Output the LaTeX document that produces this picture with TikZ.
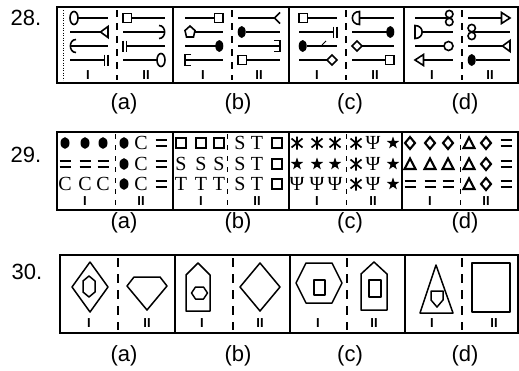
\documentclass[tikz,border=0pt]{standalone}
\usepackage{fontspec}
\setmainfont{Liberation Sans}
\newfontfamily\serifx{Liberation Serif}
\usetikzlibrary{shapes.geometric}
\tikzset{
 outerbox/.style={line width=1.9pt},
 divline/.style={line width=1.6pt},
 dashA/.style={line width=2pt, dash pattern=on 7pt off 6pt},
 dashB/.style={line width=0.8pt, dash pattern=on 5pt off 6pt},
 dashC/.style={line width=2.2pt, dash pattern=on 9pt off 7pt},
 gl/.style={line width=1.8pt},
 sym/.style={line width=1.6pt},
 symB/.style={line width=1.5pt, line join=round},
 lab/.style={font=\fontsize{22}{22}\selectfont, inner sep=0pt},
 rom/.style={font=\bfseries\fontsize{13}{13}\selectfont, inner sep=0pt},
 letr/.style={font=\serifx\fontsize{20}{20}\selectfont, inner sep=0pt},
 % row 29 symbols (centred)
 pics/dot/.style={code={\fill (0,0) ellipse [x radius=4.5, y radius=5.8];}},
 pics/eq/.style={code={\draw[line width=2pt] (-5.5,-2.7)--(5.5,-2.7) (-5.5,2.7)--(5.5,2.7);}},
 pics/sqb/.style={code={\draw[line width=1.8pt] (-5,-5) rectangle (5,5);}},
 pics/ast/.style={code={\draw[line width=1.7pt] (0,-6.5)--(0,6.5) (-5.5,-4.5)--(5.5,4.5) (-5.5,4.5)--(5.5,-4.5);}},
 pics/diab/.style={code={\draw[line width=2.1pt] (0,-6)--(5,0)--(0,6)--(-5,0)--cycle;}},
 pics/trib/.style={code={\draw[line width=2.1pt, line join=miter] (0,-5.5)--(5.5,5)--(-5.5,5)--cycle;}},
 pics/stf/.style={code={\fill (270:6.5) -- (306:2.6) -- (342:6.5) -- (18:2.6) -- (54:6.5) -- (90:2.6) -- (126:6.5) -- (162:2.6) -- (198:6.5) -- (234:2.6) -- cycle;}},
 pics/lC/.style={code={\node[letr] (-t) {C};}},
 pics/lS/.style={code={\node[letr] (-t) {S};}},
 pics/lT/.style={code={\node[letr] (-t) {T};}},
 pics/lP/.style={code={\node[letr] (-t) {Ψ};}},
}
% row 28 end symbols (line attaches at origin from the left)
\newcommand\Skey{\draw[sym] (4,0) ellipse [x radius=4, y radius=6.5];}
\newcommand\Ssqr{\draw[sym] (0,-4.5) rectangle (8.5,4.5);}
\newcommand\Sfov{\fill (3.8,0) ellipse [x radius=4, y radius=6];}
\newcommand\Scir{\draw[sym] (4.5,0) circle [radius=4.5];}
\newcommand\Sdia{\draw[sym] (0,0)--(5,-5)--(10,0)--(5,5)--cycle;}
\newcommand\Stri{\draw[sym] (0,0)--(7.5,-5.5)--(7.5,5.5)--cycle;}
\newcommand\Sarw{\draw[sym] (0,-5.5)--(0,5.5)--(8.5,0)--cycle;}
\newcommand\Sbars{\draw[sym] (0,-5.5)--(0,5.5) (3.5,-5.5)--(3.5,5.5);}
\newcommand\Scfk{\draw[sym] (-6,-6.5) .. controls (1.5,-6.5) and (1.5,6.5) .. (-6,6.5);}
\newcommand\Ssfk{\draw[sym] (-6,-5.5)--(0,-5.5)--(0,5.5)--(-6,5.5);}
\newcommand\Syfk{\draw[sym] (0,0)--(5.5,-5.5) (0,0)--(5.5,5.5);}
\newcommand\Sdrd{\draw[sym] (7.5,-6.5)--(7.5,6.5) .. controls (-2,6.5) and (-2,-6.5) .. (7.5,-6.5) -- cycle;}
\newcommand\Sdfl{\draw[sym] (0,-6.5)--(0,6.5) .. controls (9.5,6.5) and (9.5,-6.5) .. (0,-6.5) -- cycle;}
\newcommand\Seit{\draw[sym] (0,-3.9) circle [radius=3.7] (0,3.9) circle [radius=3.7];}
\newcommand\Shse{\draw[sym] (0,-1.5)--(5,-6)--(10,-1.5)--(8.5,5)--(1.5,5)--cycle;}
\newcommand\symR[5]{\draw[gl] (#1,#3) -- ({#2-#5},#3);
 \begin{scope}[shift={({#2-#5},#3)}]\csname S#4\endcsname\end{scope}}
\newcommand\symL[5]{\draw[gl] ({#1+#5},#3) -- (#2,#3);
 \begin{scope}[shift={({#1+#5},#3)},xscale=-1]\csname S#4\endcsname\end{scope}}
\newcommand\gridrow[3]{%
 \foreach \s [count=\j] in {#3} {
   \pgfmathsetmacro\dx{{8,28,46,67,84,104}[\j-1]}
   \pic (g#1-#2-\j) at ({#1+\dx},#2) {\s};
 }}
\begin{document}
\begin{tikzpicture}[x=1pt,y=-1pt]
\useasboundingbox (0,0) rectangle (519,370);
\fill[white] (0,0) rectangle (519,370);

% ---------- row numbers
\node[lab] (n28) at (26,18) {28.};
\node[lab] (n29) at (26,155) {29.};
\node[lab] (n30) at (27,272) {30.};

% ---------- question 28
\draw[outerbox] (57,7) rectangle (518,83);
\draw[line width=0.5pt, dotted] (63,10) -- (63,80);
\foreach \x in {173,289,404} \draw[divline] (\x,7) -- (\x,83);
\foreach \x in {117,232,346,462} \draw[dashA] (\x,10) -- (\x,80);
% a I
\symL{70}{108}{18}{key}{8}
\symR{70}{108}{32}{tri}{7.5}
\symL{70}{108}{46}{cfk}{0}
\symR{70}{108}{60}{bars}{3.5}
% a II
\symL{123}{165}{18}{sqr}{8.5}
\symR{123}{165}{32}{cfk}{0}
\symL{123}{165}{46}{bars}{3.5}
\symR{123}{165}{60}{key}{8}
% b I
\symR{185}{223}{18}{sqr}{8.5}
\symL{185}{223}{32}{hse}{10}
\symR{185}{223}{46}{fov}{7.5}
\symL{185}{223}{60}{sfk}{0}
% b II
\symR{238}{280}{18}{yfk}{5.5}
\symL{238}{280}{32}{fov}{7.5}
\symR{238}{280}{46}{sfk}{0}
\symL{238}{280}{60}{sqr}{8.5}
% c I
\symL{299}{337}{18}{sqr}{8.5}
\symR{299}{337}{32}{bars}{3.5}
\symL{299}{337}{46}{fov}{7.5}
\symR{299}{337}{60}{dia}{10}
\draw[line width=0.8pt] (322,45) -- (326,41);
% c II
\symL{352}{394}{18}{dfl}{7.5}
\symR{352}{394}{32}{fov}{7.5}
\symL{352}{394}{46}{dia}{10}
\symR{352}{394}{60}{sqr}{8.5}
% d I
\symR{415}{453}{18}{eit}{3.7}
\symL{415}{453}{32}{drd}{7.5}
\symR{415}{453}{46}{cir}{9}
\symL{415}{453}{60}{arw}{8.5}
% d II
\symR{468}{510}{18}{arw}{8.5}
\symL{468}{510}{32}{eit}{3.7}
\symR{468}{510}{46}{tri}{7.5}
\symL{468}{510}{60}{fov}{7.5}
\foreach \x/\t [count=\i] in {88/I,146/II,203/I,259/II,317/I,375/II,432/I,490/II}
  \node[rom] (r28-\i) at (\x,75) {\t};
\foreach \x/\t in {124/a,238/b,350/c,465/d}
  \node[lab] (l28\t) at (\x,104) {(\t)};

% ---------- question 29
\draw[outerbox] (57,132) rectangle (518,210);
\foreach \x in {173,289,402} \draw[divline] (\x,132) -- (\x,210);
\foreach \x in {115,227,346,460} \draw[dashB] (\x,134) -- (\x,208);
\gridrow{57}{143}{dot,dot,dot,dot,lC,eq}
\gridrow{57}{164}{eq,eq,eq,dot,lC,eq}
\gridrow{57}{184}{lC,lC,lC,dot,lC,eq}
\gridrow{173}{143}{sqb,sqb,sqb,lS,lT,sqb}
\gridrow{173}{164}{lS,lS,lS,lS,lT,sqb}
\gridrow{173}{184}{lT,lT,lT,lS,lT,sqb}
\gridrow{289}{143}{ast,ast,ast,ast,lP,stf}
\gridrow{289}{164}{stf,stf,stf,ast,lP,stf}
\gridrow{289}{184}{lP,lP,lP,ast,lP,stf}
\gridrow{402}{143}{diab,diab,diab,trib,diab,eq}
\gridrow{402}{164}{trib,trib,trib,trib,diab,eq}
\gridrow{402}{184}{eq,eq,eq,trib,diab,eq}
\foreach \x/\t [count=\i] in {85/I,141/II,201/I,257/II,317/I,373/II,430/I,486/II}
  \node[rom] (r29-\i) at (\x,201) {\t};
\foreach \x/\t in {124/a,238/b,350/c,465/d}
  \node[lab] (l29\t) at (\x,223) {(\t)};

% ---------- question 30
\draw[outerbox] (60,255) rectangle (518,333);
\foreach \x in {175,290,405} \draw[divline] (\x,255) -- (\x,333);
\foreach \x in {118,233,347,462} \draw[dashC] (\x,258) -- (\x,330);
% a
\draw[symB] (72,287)--(90,262)--(108,287)--(90,312)--cycle;
\draw[symB] (89,276)--(95,281)--(95,292)--(89,297)--(83,292)--(83,281)--cycle;
\draw[symB] (134,277)--(160,277)--(167,286)--(147,310)--(127,286)--cycle;
% b
\draw[symB] (186,311)--(186,275)--(198,263)--(210,275)--(210,311)--cycle;
\draw[symB] (191.5,293)--(195.5,287)--(203.5,287)--(207.5,293)--(203.5,299)--(195.5,299)--cycle;
\draw[symB] (240,287)--(260,263)--(280,287)--(260,311)--cycle;
% c
\draw[symB] (296,283)--(306,263)--(332,263)--(342,283)--(332,303)--(306,303)--cycle;
\draw[symB] (314,280) rectangle (325,295);
\draw[symB] (361,310)--(361,274)--(374,262)--(387,274)--(387,310)--cycle;
\draw[symB] (369,280) rectangle (381,297);
% d
\draw[symB] (436,265)--(453,313)--(420,313)--cycle;
\draw[symB] (431,291)--(443,291)--(443,300)--(437,307)--(431,300)--cycle;
\draw[symB] (472,263) rectangle (510,312);
\foreach \x/\t [count=\i] in {89/I,147/II,202/I,260/II,318/I,374/II,432/I,494/II}
  \node[rom] (r30-\i) at (\x,323) {\t};
\foreach \x/\t in {124/a,238/b,350/c,465/d}
  \node[lab] (l30\t) at (\x,356) {(\t)};
\end{tikzpicture}
\end{document}
